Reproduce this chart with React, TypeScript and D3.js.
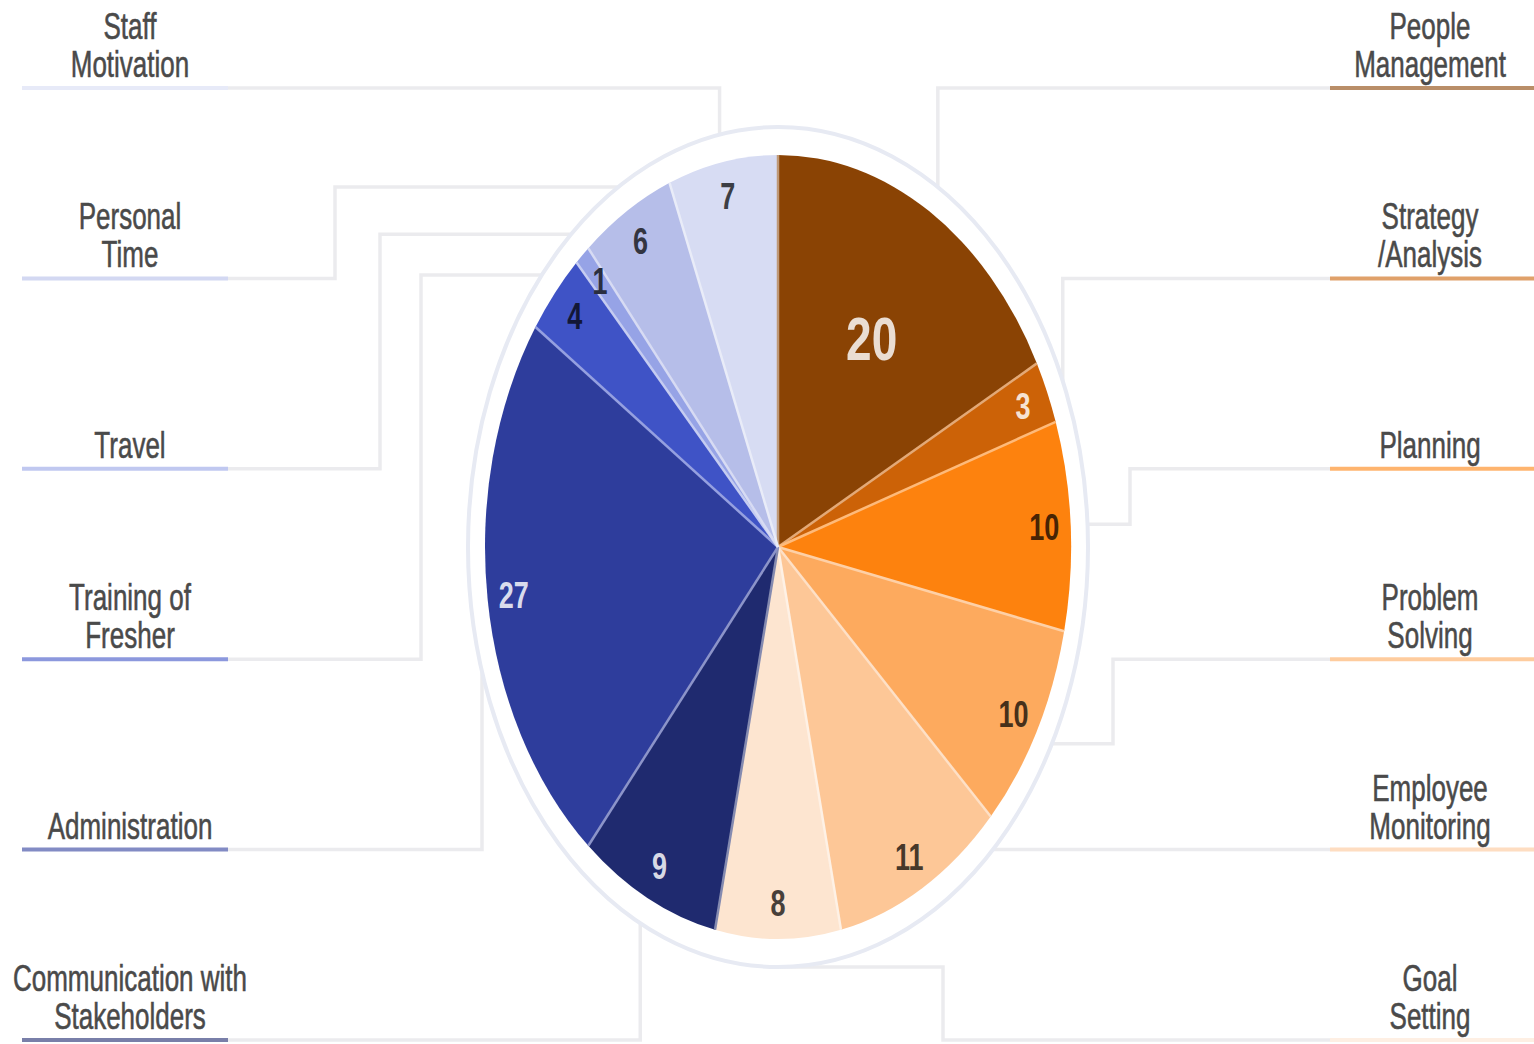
import * as d3 from "d3";

// slices, clockwise from 12 o'clock
const categories = [
  "People Management",
  "Strategy /Analysis",
  "Planning",
  "Problem Solving",
  "Employee Monitoring",
  "Goal Setting",
  "Communication with Stakeholders",
  "Administration",
  "Training of Fresher",
  "Travel",
  "Personal Time",
  "Staff Motivation",
];
const values = [20, 3, 10, 10, 11, 8, 9, 27, 4, 1, 6, 7];
const labelLines = [
  ["People", "Management"],
  ["Strategy", "/Analysis"],
  ["Planning"],
  ["Problem", "Solving"],
  ["Employee", "Monitoring"],
  ["Goal", "Setting"],
  ["Communication with", "Stakeholders"],
  ["Administration"],
  ["Training of", "Fresher"],
  ["Travel"],
  ["Personal", "Time"],
  ["Staff", "Motivation"],
];
const colors = [
  "#8a4304", "#cc6207", "#fd820e", "#fdaa5e", "#fdc797", "#fde5d0",
  "#1f2a6f", "#2e3d9c", "#3f53c6", "#96a3e6", "#b6bee9", "#d7dcf3",
];
const highlighted = "People Management";

const W = 1534;
const H = 1044;
const cx = 778;
const cy = 547;
const R = 293;
const sy = 392 / 293; // the pie is drawn squashed into an ellipse
const ringRx = 310;
const ringRy = 420;

// how each leader line bends: x of the vertical run, "anchor" = straight down/up to the slice, "direct" = flat
const leaderElbow: (number | "anchor" | "direct")[] = [
  "anchor", "anchor", 1130, 1113, "direct", 943,
  "anchor", 482, 421, 380, 335, "anchor",
];

const underTop = 88;
const underBottom = 1040;

export default function App() {
  const arcs = d3.pie<number>().sort(null).value((d) => d)(values);
  const arc = d3.arc<d3.PieArcDatum<number>>().innerRadius(0).outerRadius(R);
  const underY = d3.scaleLinear().domain([0, 5]).range([underTop, underBottom]);

  const ringX = (y: number, side: number) => {
    const t = (y - cy) / ringRy;
    return cx + side * ringRx * Math.sqrt(Math.max(0, 1 - t * t));
  };

  const leader = (i: number) => {
    const a = arcs[i];
    const mid = (a.startAngle + a.endAngle) / 2;
    const ax = cx + ringRx * Math.sin(mid);
    const ay = cy - ringRy * Math.cos(mid);
    const right = i < 6;
    const side = right ? 1 : -1;
    const slot = right ? i : 11 - i;
    const yU = underY(slot);
    const sx = right ? 1330 : 228;
    const spec = leaderElbow[i];
    let pts: [number, number][];
    if (spec === "direct") {
      pts = [[sx, yU], [ringX(yU, side), yU]];
    } else {
      const ex = spec === "anchor" ? ax : spec;
      let stop: number | null = null;
      const dx = (ex - cx) / ringRx;
      if (Math.abs(dx) < 1) {
        const h = ringRy * Math.sqrt(1 - dx * dx);
        const hits = [cy - h, cy + h].filter((y) =>
          yU < ay ? y > yU && y <= ay + 0.5 : y < yU && y >= ay - 0.5
        );
        if (hits.length) stop = yU < ay ? d3.min(hits)! : d3.max(hits)!;
      }
      pts = stop !== null
        ? [[sx, yU], [ex, yU], [ex, stop]]
        : [[sx, yU], [ex, yU], [ex, ay], [ringX(ay, side), ay]];
    }
    return d3.line()(pts) ?? "";
  };

  return (
    <div style={{ position: "absolute", left: 0, top: 0, background: "#fff" }}>
      <svg width={W} height={H} viewBox={`0 0 ${W} ${H}`} style={{ display: "block" }}>
        <rect width={W} height={H} fill="#fff" />
        {/* leader lines */}
        <g fill="none" stroke="#ebebee" strokeWidth={3.5} strokeLinejoin="miter">
          {categories.map((c, i) => (
            <path key={c} d={leader(i)} />
          ))}
        </g>
        {/* outer ring */}
        <ellipse cx={cx} cy={cy} rx={ringRx} ry={ringRy} fill="none" stroke="#e7eaf3" strokeWidth={4} />
        {/* pie */}
        <g transform={`translate(${cx},${cy}) scale(1,${sy})`}>
          {arcs.map((a, i) => (
            <path key={categories[i]} d={arc(a) ?? ""} fill={colors[i]} />
          ))}
          {arcs.map((a, i) => (
            <line
              key={"sep" + i}
              x1={0}
              y1={0}
              x2={R * Math.sin(a.startAngle)}
              y2={-R * Math.cos(a.startAngle)}
              stroke={d3.interpolateRgb(colors[i], "#fff")(0.45)}
              strokeWidth={2.5}
              vectorEffect="non-scaling-stroke"
            />
          ))}
          {arcs.map((a, i) => {
            const big = categories[i] === highlighted;
            const r = big ? R * 0.62 : R * 0.91;
            const [lx, ly] = d3.arc<d3.PieArcDatum<number>>().innerRadius(r).outerRadius(r).centroid(a);
            const dark = d3.hsl(colors[i]).l < 0.5;
            const fill = dark
              ? d3.interpolateRgb(colors[i], "#fff")(0.82)
              : d3.interpolateRgb(colors[i], "#000")(0.72);
            return (
              <text
                key={"v" + i}
                x={lx}
                y={ly}
                textAnchor="middle"
                dominantBaseline="central"
                fontFamily="'Liberation Sans', Arial, sans-serif"
                fontWeight="bold"
                fontSize={big ? 46 : 27}
                fill={fill}
              >
                {values[i]}
              </text>
            );
          })}
        </g>
        {/* side labels */}
        {categories.map((c, i) => {
          const right = i < 6;
          const slot = right ? i : 11 - i;
          const yU = underY(slot);
          const x0 = right ? 1330 : 22;
          const x1 = right ? 1534 : 228;
          const tx = right ? 1430 : 130;
          const lines = labelLines[i];
          return (
            <g key={"l" + c}>
              <line
                x1={x0}
                x2={x1}
                y1={yU}
                y2={yU}
                stroke={colors[i]}
                strokeOpacity={0.6}
                strokeWidth={4}
              />
              {lines.map((t, k) => (
                <text
                  key={t}
                  transform={`translate(${tx},${yU - 11 - (lines.length - 1 - k) * 38}) scale(1,1.45)`}
                  textAnchor="middle"
                  fontFamily="'Liberation Sans', Arial, sans-serif"
                  fontSize={26}
                  fill="#4a4a4a"
                  stroke="#4a4a4a"
                  strokeWidth={0.4}
                >
                  {t}
                </text>
              ))}
            </g>
          );
        })}
      </svg>
    </div>
  );
}
